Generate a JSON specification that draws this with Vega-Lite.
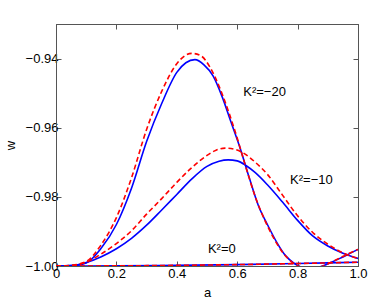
{
  "$schema": "https://vega.github.io/schema/vega-lite/v6.json",
  "autosize": "none",
  "width": 302,
  "height": 242,
  "padding": {"left": 56, "top": 24, "right": 13, "bottom": 34},
  "background": "white",
  "config": {
    "view": {"stroke": "#555", "strokeWidth": 1},
    "font": "Liberation Sans",
    "axis": {"grid": false, "domainColor": "#555", "tickColor": "#555", "labelColor": "black", "titleColor": "black", "labelFontSize": 13, "titleFontSize": 13, "titleFontWeight": "normal", "labelFont": "Liberation Sans", "titleFont": "Liberation Sans", "tickSize": -5}
  },
  "datasets": {
    "curves": [
      {"K": "-20", "kind": "solid", "a": 0.00, "w": -1.0000},
      {"K": "-20", "kind": "solid", "a": 0.05, "w": -0.9999},
      {"K": "-20", "kind": "solid", "a": 0.10, "w": -0.9991},
      {"K": "-20", "kind": "solid", "a": 0.15, "w": -0.9948},
      {"K": "-20", "kind": "solid", "a": 0.20, "w": -0.9880},
      {"K": "-20", "kind": "solid", "a": 0.25, "w": -0.9775},
      {"K": "-20", "kind": "solid", "a": 0.30, "w": -0.9640},
      {"K": "-20", "kind": "solid", "a": 0.35, "w": -0.9530},
      {"K": "-20", "kind": "solid", "a": 0.40, "w": -0.9440},
      {"K": "-20", "kind": "solid", "a": 0.43, "w": -0.9412},
      {"K": "-20", "kind": "solid", "a": 0.46, "w": -0.9403},
      {"K": "-20", "kind": "solid", "a": 0.49, "w": -0.9418},
      {"K": "-20", "kind": "solid", "a": 0.52, "w": -0.9450},
      {"K": "-20", "kind": "solid", "a": 0.55, "w": -0.9510},
      {"K": "-20", "kind": "solid", "a": 0.58, "w": -0.9585},
      {"K": "-20", "kind": "solid", "a": 0.61, "w": -0.9660},
      {"K": "-20", "kind": "solid", "a": 0.64, "w": -0.9745},
      {"K": "-20", "kind": "solid", "a": 0.67, "w": -0.9825},
      {"K": "-20", "kind": "solid", "a": 0.70, "w": -0.9880},
      {"K": "-20", "kind": "solid", "a": 0.73, "w": -0.9930},
      {"K": "-20", "kind": "solid", "a": 0.76, "w": -0.9970},
      {"K": "-20", "kind": "solid", "a": 0.79, "w": -0.9993},
      {"K": "-20", "kind": "solid", "a": 0.82, "w": -1.0005},
      {"K": "-20", "kind": "solid", "a": 0.85, "w": -1.0007},
      {"K": "-20", "kind": "solid", "a": 0.88, "w": -1.0001},
      {"K": "-20", "kind": "solid", "a": 0.91, "w": -0.9990},
      {"K": "-20", "kind": "solid", "a": 0.94, "w": -0.9978},
      {"K": "-20", "kind": "solid", "a": 0.97, "w": -0.9965},
      {"K": "-20", "kind": "solid", "a": 1.00, "w": -0.9952},
      {"K": "-20", "kind": "dashed", "a": 0.00, "w": -1.0000},
      {"K": "-20", "kind": "dashed", "a": 0.05, "w": -0.9998},
      {"K": "-20", "kind": "dashed", "a": 0.10, "w": -0.9987},
      {"K": "-20", "kind": "dashed", "a": 0.15, "w": -0.9938},
      {"K": "-20", "kind": "dashed", "a": 0.20, "w": -0.9860},
      {"K": "-20", "kind": "dashed", "a": 0.25, "w": -0.9745},
      {"K": "-20", "kind": "dashed", "a": 0.30, "w": -0.9605},
      {"K": "-20", "kind": "dashed", "a": 0.35, "w": -0.9495},
      {"K": "-20", "kind": "dashed", "a": 0.40, "w": -0.9415},
      {"K": "-20", "kind": "dashed", "a": 0.43, "w": -0.9390},
      {"K": "-20", "kind": "dashed", "a": 0.45, "w": -0.9385},
      {"K": "-20", "kind": "dashed", "a": 0.48, "w": -0.9392},
      {"K": "-20", "kind": "dashed", "a": 0.51, "w": -0.9425},
      {"K": "-20", "kind": "dashed", "a": 0.54, "w": -0.9480},
      {"K": "-20", "kind": "dashed", "a": 0.57, "w": -0.9550},
      {"K": "-20", "kind": "dashed", "a": 0.60, "w": -0.9630},
      {"K": "-20", "kind": "dashed", "a": 0.63, "w": -0.9718},
      {"K": "-20", "kind": "dashed", "a": 0.66, "w": -0.9800},
      {"K": "-20", "kind": "dashed", "a": 0.69, "w": -0.9865},
      {"K": "-20", "kind": "dashed", "a": 0.72, "w": -0.9918},
      {"K": "-20", "kind": "dashed", "a": 0.75, "w": -0.9960},
      {"K": "-20", "kind": "dashed", "a": 0.78, "w": -0.9988},
      {"K": "-20", "kind": "dashed", "a": 0.81, "w": -1.0003},
      {"K": "-20", "kind": "dashed", "a": 0.84, "w": -1.0008},
      {"K": "-20", "kind": "dashed", "a": 0.87, "w": -1.0004},
      {"K": "-20", "kind": "dashed", "a": 0.90, "w": -0.9994},
      {"K": "-20", "kind": "dashed", "a": 0.93, "w": -0.9981},
      {"K": "-20", "kind": "dashed", "a": 0.96, "w": -0.9968},
      {"K": "-20", "kind": "dashed", "a": 1.00, "w": -0.9952},
      {"K": "-10", "kind": "solid", "a": 0.00, "w": -1.0000},
      {"K": "-10", "kind": "solid", "a": 0.05, "w": -0.9999},
      {"K": "-10", "kind": "solid", "a": 0.10, "w": -0.9990},
      {"K": "-10", "kind": "solid", "a": 0.15, "w": -0.9973},
      {"K": "-10", "kind": "solid", "a": 0.20, "w": -0.9950},
      {"K": "-10", "kind": "solid", "a": 0.25, "w": -0.9920},
      {"K": "-10", "kind": "solid", "a": 0.30, "w": -0.9882},
      {"K": "-10", "kind": "solid", "a": 0.35, "w": -0.9838},
      {"K": "-10", "kind": "solid", "a": 0.40, "w": -0.9793},
      {"K": "-10", "kind": "solid", "a": 0.45, "w": -0.9748},
      {"K": "-10", "kind": "solid", "a": 0.50, "w": -0.9712},
      {"K": "-10", "kind": "solid", "a": 0.54, "w": -0.9697},
      {"K": "-10", "kind": "solid", "a": 0.57, "w": -0.9693},
      {"K": "-10", "kind": "solid", "a": 0.60, "w": -0.9696},
      {"K": "-10", "kind": "solid", "a": 0.63, "w": -0.9710},
      {"K": "-10", "kind": "solid", "a": 0.66, "w": -0.9730},
      {"K": "-10", "kind": "solid", "a": 0.70, "w": -0.9765},
      {"K": "-10", "kind": "solid", "a": 0.75, "w": -0.9815},
      {"K": "-10", "kind": "solid", "a": 0.80, "w": -0.9868},
      {"K": "-10", "kind": "solid", "a": 0.85, "w": -0.9913},
      {"K": "-10", "kind": "solid", "a": 0.90, "w": -0.9942},
      {"K": "-10", "kind": "solid", "a": 0.95, "w": -0.9963},
      {"K": "-10", "kind": "solid", "a": 1.00, "w": -0.9978},
      {"K": "-10", "kind": "dashed", "a": 0.00, "w": -1.0000},
      {"K": "-10", "kind": "dashed", "a": 0.05, "w": -0.9999},
      {"K": "-10", "kind": "dashed", "a": 0.10, "w": -0.9989},
      {"K": "-10", "kind": "dashed", "a": 0.15, "w": -0.9965},
      {"K": "-10", "kind": "dashed", "a": 0.20, "w": -0.9935},
      {"K": "-10", "kind": "dashed", "a": 0.25, "w": -0.9898},
      {"K": "-10", "kind": "dashed", "a": 0.30, "w": -0.9850},
      {"K": "-10", "kind": "dashed", "a": 0.35, "w": -0.9805},
      {"K": "-10", "kind": "dashed", "a": 0.40, "w": -0.9758},
      {"K": "-10", "kind": "dashed", "a": 0.45, "w": -0.9715},
      {"K": "-10", "kind": "dashed", "a": 0.50, "w": -0.9680},
      {"K": "-10", "kind": "dashed", "a": 0.53, "w": -0.9665},
      {"K": "-10", "kind": "dashed", "a": 0.56, "w": -0.9659},
      {"K": "-10", "kind": "dashed", "a": 0.59, "w": -0.9662},
      {"K": "-10", "kind": "dashed", "a": 0.62, "w": -0.9673},
      {"K": "-10", "kind": "dashed", "a": 0.66, "w": -0.9700},
      {"K": "-10", "kind": "dashed", "a": 0.70, "w": -0.9735},
      {"K": "-10", "kind": "dashed", "a": 0.75, "w": -0.9795},
      {"K": "-10", "kind": "dashed", "a": 0.80, "w": -0.9855},
      {"K": "-10", "kind": "dashed", "a": 0.85, "w": -0.9903},
      {"K": "-10", "kind": "dashed", "a": 0.90, "w": -0.9937},
      {"K": "-10", "kind": "dashed", "a": 0.95, "w": -0.9962},
      {"K": "-10", "kind": "dashed", "a": 1.00, "w": -0.9978},
      {"K": "0", "kind": "solid", "a": 0.00, "w": -1.0000},
      {"K": "0", "kind": "solid", "a": 0.20, "w": -0.99996},
      {"K": "0", "kind": "solid", "a": 0.40, "w": -0.99982},
      {"K": "0", "kind": "solid", "a": 0.60, "w": -0.9996},
      {"K": "0", "kind": "solid", "a": 0.80, "w": -0.99928},
      {"K": "0", "kind": "solid", "a": 1.00, "w": -0.9989},
      {"K": "0", "kind": "dashed", "a": 0.00, "w": -1.0000},
      {"K": "0", "kind": "dashed", "a": 0.20, "w": -0.99996},
      {"K": "0", "kind": "dashed", "a": 0.40, "w": -0.99982},
      {"K": "0", "kind": "dashed", "a": 0.60, "w": -0.9996},
      {"K": "0", "kind": "dashed", "a": 0.80, "w": -0.99928},
      {"K": "0", "kind": "dashed", "a": 1.00, "w": -0.9989}
    ],
    "labels": [
      {"text": "K²=−20", "a": 0.62, "w": -0.9496},
      {"text": "K²=−10", "a": 0.775, "w": -0.9751},
      {"text": "K²=0", "a": 0.503, "w": -0.9951}
    ]
  },
  "layer": [
    {
      "data": {"name": "curves"},
      "transform": [{"filter": "datum.kind == 'solid'"}],
      "mark": {"type": "line", "clip": true, "interpolate": "monotone", "color": "#0000ff", "strokeWidth": 1.6},
      "encoding": {
        "x": {"field": "a", "type": "quantitative", "scale": {"domain": [0, 1], "nice": false, "zero": false},
              "axis": {"orient": "bottom", "title": "a", "values": [0, 0.2, 0.4, 0.6, 0.8, 1.0], "labelExpr": "datum.value == 0 ? '0' : format(datum.value, '.1f')", "labelPadding": 6, "titleX": 151, "titleY": 26, "titleBaseline": "middle", "labelFlush": false}},
        "y": {"field": "w", "type": "quantitative", "scale": {"domain": [-1, -0.93], "nice": false, "zero": false},
              "axis": {"orient": "left", "title": "w", "values": [-1.0, -0.98, -0.96, -0.94], "format": ".2f", "labelPadding": 3, "titleX": -46, "titleY": 121, "titleBaseline": "middle", "titleAlign": "center", "titleAngle": -90}},
        "detail": {"field": "K"}
      }
    },
    {
      "data": {"name": "curves"},
      "transform": [{"filter": "datum.kind == 'dashed'"}],
      "mark": {"type": "line", "clip": true, "interpolate": "monotone", "color": "#ff0000", "strokeWidth": 1.6, "strokeDash": [5, 3]},
      "encoding": {
        "x": {"field": "a", "type": "quantitative", "axis": {"orient": "top", "title": null, "labels": false, "values": [0, 0.2, 0.4, 0.6, 0.8, 1.0]}},
        "y": {"field": "w", "type": "quantitative", "axis": {"orient": "right", "title": null, "labels": false, "values": [-1.0, -0.98, -0.96, -0.94]}},
        "detail": {"field": "K"}
      }
    },
    {
      "data": {"name": "labels"},
      "mark": {"type": "text", "align": "left", "baseline": "middle", "fontSize": 13, "font": "Liberation Sans", "color": "black"},
      "encoding": {
        "x": {"field": "a", "type": "quantitative", "axis": null},
        "y": {"field": "w", "type": "quantitative", "axis": null},
        "text": {"field": "text"}
      }
    }
  ],
  "resolve": {"axis": {"x": "independent", "y": "independent"}}
}
